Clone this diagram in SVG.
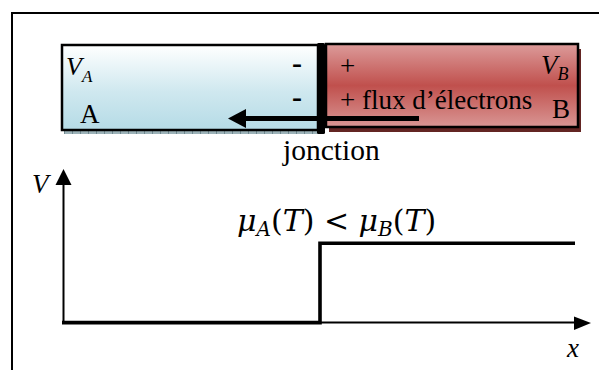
<svg xmlns="http://www.w3.org/2000/svg" width="599" height="370" viewBox="0 0 599 370">
  <style>
    .frame { fill: none; stroke: #000; stroke-width: 2; }
    .box { stroke: #000; stroke-width: 2.5; }
    .axis { fill: none; stroke: #000; stroke-width: 2; }
    .curve { fill: none; stroke: #000; stroke-width: 3.6; }
  </style>
  <defs>
    <linearGradient id="fillA" x1="0" y1="0" x2="0" y2="1">
      <stop offset="0" stop-color="#ffffff"/>
      <stop offset="0.55" stop-color="#cfe8ef"/>
      <stop offset="1" stop-color="#b5dbe6"/>
    </linearGradient>
    <linearGradient id="fillB" x1="0" y1="0" x2="0" y2="1">
      <stop offset="0" stop-color="#dc9b9a"/>
      <stop offset="0.5" stop-color="#c0504d"/>
      <stop offset="1" stop-color="#d99694"/>
    </linearGradient>
    <pattern id="hatch" width="8" height="4" patternUnits="userSpaceOnUse">
      <rect width="8" height="4" fill="#9db3b9"/>
      <rect width="1" height="4" fill="#6f878e"/>
    </pattern>
  </defs>

  <!-- outer frame (open at right and bottom) -->
  <path class="frame" d="M12 370 V13 H599"/>

  <g font-family="'Liberation Serif', 'Times New Roman', serif" fill="#000">
    <!-- material A -->
    <g id="metal-a">
      <rect x="64" y="130" width="256" height="4" fill="url(#hatch)"/>
      <rect class="box" x="62" y="45" width="256" height="85" fill="url(#fillA)"/>
      <text x="66" y="75" font-size="26" font-style="italic">V<tspan font-size="17" dy="7">A</tspan></text>
      <text x="80" y="123" font-size="27">A</text>
      <text x="292" y="73" font-size="30" font-weight="bold">-</text>
      <text x="292" y="107" font-size="30" font-weight="bold">-</text>
    </g>

    <!-- material B -->
    <g id="metal-b">
      <rect x="329" y="49" width="252" height="83" fill="#632523"/>
      <rect class="box" x="326" y="44" width="252" height="83" fill="url(#fillB)"/>
      <text x="340" y="75" font-size="27">+</text>
      <text x="340" y="109" font-size="27">+ flux d’électrons</text>
      <text x="541" y="74" font-size="27" font-style="italic">V<tspan font-size="18" dy="6">B</tspan></text>
      <text x="552" y="118" font-size="27">B</text>
    </g>

    <!-- junction -->
    <g id="junction">
      <rect x="317" y="43" width="8" height="91" rx="1.5" fill="#000"/>
      <text x="283" y="160" font-size="29.5">jonction</text>
    </g>

    <!-- electron flow arrow -->
    <g id="connectors">
      <line x1="419" y1="118.5" x2="243" y2="118.5" stroke="#000" stroke-width="5"/>
      <polygon points="228,118.5 246,109 246,128" fill="#000"/>
    </g>

    <!-- potential plot -->
    <g id="plot">
      <line class="axis" x1="63.5" y1="323" x2="63.5" y2="184"/>
      <polygon points="63.5,169 55.5,185 71.5,185" fill="#000"/>
      <line class="axis" x1="318" y1="322.5" x2="575" y2="322.5"/>
      <polygon points="591,323 574,316.5 574,330" fill="#000"/>
      <path class="curve" d="M62 322.6 H320 V243.3 H575"/>
      <text x="32" y="193" font-size="27" font-style="italic">V</text>
      <text x="567" y="357" font-size="27" font-style="italic">x</text>
      <text x="237" y="231" font-size="30" font-family="'DejaVu Serif', serif"><tspan font-style="italic">μ</tspan><tspan font-style="italic" font-size="20" dy="5">A</tspan><tspan dy="-5">(</tspan><tspan font-style="italic">T</tspan><tspan>) &lt; </tspan><tspan font-style="italic">μ</tspan><tspan font-style="italic" font-size="20" dy="5">B</tspan><tspan dy="-5">(</tspan><tspan font-style="italic">T</tspan><tspan>)</tspan></text>
    </g>
  </g>
</svg>
